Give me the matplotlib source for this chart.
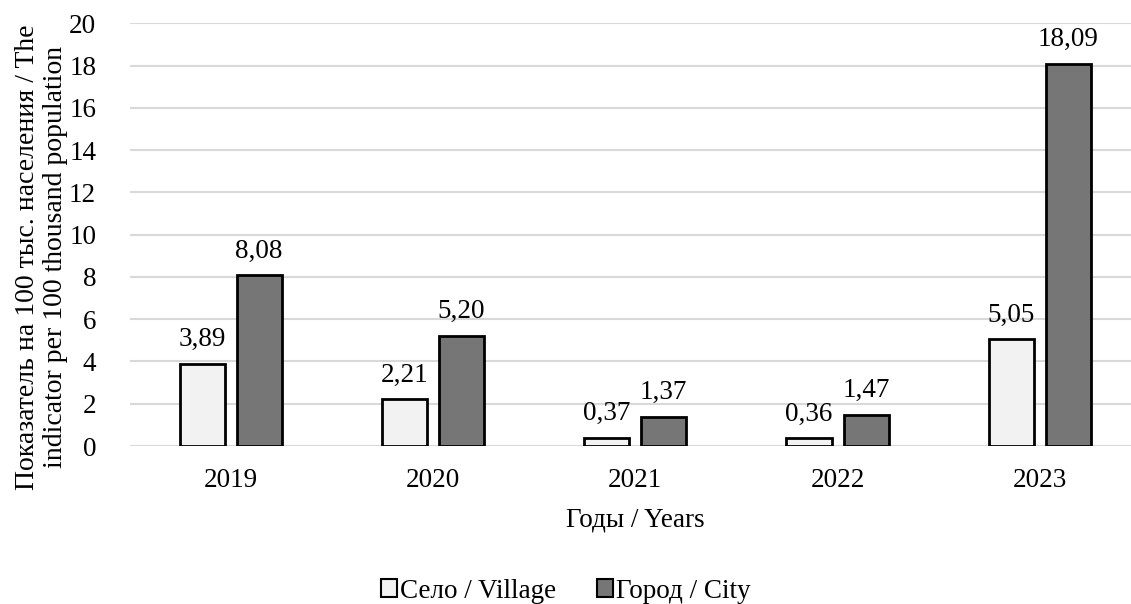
import numpy as np
import matplotlib.pyplot as plt
from matplotlib.patches import Patch

# данные
years = ['2019', '2020', '2021', '2022', '2023']
village = [3.89, 2.21, 0.37, 0.36, 5.05]
city = [8.08, 5.20, 1.37, 1.47, 18.09]

plt.rcParams['font.family'] = ['Liberation Serif', 'DejaVu Serif']
fs = 19.5

fig = plt.figure(figsize=(11.31, 6.04), dpi=100)
ax = fig.add_axes([129.5/1131, 1 - 446/604, (1141 - 129.5)/1131, (446 - 23.3)/604])

x = np.arange(len(years))
w = 0.223
off = 0.141

b1 = ax.bar(x - off, village, w, color='#f2f2f2', edgecolor='black', linewidth=2, zorder=3)
b2 = ax.bar(x + off, city, w, color='#767676', edgecolor='black', linewidth=2, zorder=3)

# подписи значений
for bars, vals in ((b1, village), (b2, city)):
    for b, v in zip(bars, vals):
        ax.annotate(('%.2f' % v).replace('.', ','), (b.get_x() + b.get_width()/2, v),
                    xytext=(0, 8.5), textcoords='offset points',
                    ha='center', va='bottom', fontsize=fs)

ax.set_xlim(-0.5, len(years) - 0.5)
ax.set_ylim(0, 20)
ax.set_yticks(range(0, 21, 2))
ax.set_xticks(x)
ax.set_xticklabels(years)
ax.tick_params(axis='both', length=0, labelsize=fs)
ax.tick_params(axis='y', pad=24)
ax.tick_params(axis='x', pad=16)
ax.grid(axis='y', color='#d9d9d9', linewidth=1.5, zorder=0)
for s in ax.spines.values():
    s.set_visible(False)

ax.set_xlabel('Годы / Years', fontsize=fs, labelpad=10)
fig.text(0.037, 1 - 257/604,
         'Показатель на 100 тыс. населения / The\nindicator per 100 thousand population',
         rotation=90, ha='center', va='center', fontsize=20, linespacing=1.15)

handles = [Patch(facecolor='#f2f2f2', edgecolor='black', linewidth=1.5),
           Patch(facecolor='#767676', edgecolor='black', linewidth=1.5)]
fig.legend(handles, ['Село / Village', 'Город / City'], loc='center',
           bbox_to_anchor=(0.5, 1 - 591/604), ncol=2, frameon=False, fontsize=fs,
           handlelength=0.6, handleheight=0.6, handletextpad=0.1, columnspacing=1.5)

fig.savefig('out.png', dpi=100)
